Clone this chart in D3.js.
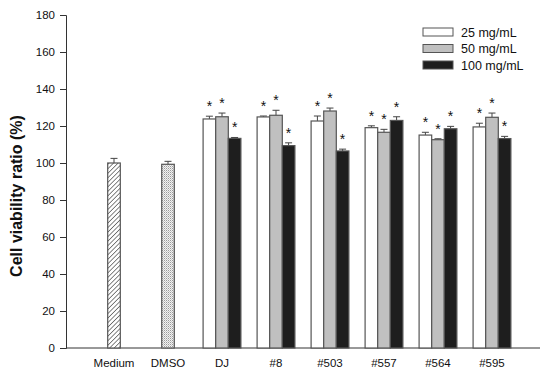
<!DOCTYPE html>
<html><head><meta charset="utf-8">
<script src="https://cdn.jsdelivr.net/npm/d3@7"></script>
<style>body{margin:0;background:#fff}svg{display:block}text{font-family:Arial,"Liberation Sans",sans-serif}</style>
</head><body><svg id="c" width="550" height="375"></svg>
<script>
const categories = ["Medium","DMSO","DJ","#8","#503","#557","#564","#595"];
const seriesNames = ["25 mg/mL","50 mg/mL","100 mg/mL"];
const controlValues = [100, 99.3];
const controlErrors = [2.5, 1.6];
const values25 = [123.8, 124.9, 122.7, 119.1, 115.1, 119.5];
const errors25 = [1.5, 0.5, 2.7, 1.0, 1.5, 2.0];
const values50 = [125.0, 125.8, 128.1, 116.6, 112.6, 124.7];
const errors50 = [2.0, 2.7, 1.6, 1.6, 0.5, 2.3];
const values100 = [113.3, 109.4, 106.5, 123.0, 118.5, 113.2];
const errors100 = [0.5, 1.5, 1.0, 2.0, 1.3, 1.2];
const yTicks = [0,20,40,60,80,100,120,140,160,180];

const svg = d3.select("#c");
const x = d3.scalePoint().domain(categories).range([66,540]).padding(0.889);
const y = d3.scaleLinear().domain([0,180]).range([348,15]);
const barW = 12.6;
const fills = ["#ffffff","#c0c0c0","#1e1e1e"];
const stroke = "#555";

const defs = svg.append("defs");
const hatch = defs.append("pattern").attr("id","hatch").attr("patternUnits","userSpaceOnUse")
  .attr("width",3.2).attr("height",3.2).attr("patternTransform","rotate(45)");
hatch.append("rect").attr("width",3.2).attr("height",3.2).attr("fill","#fff");
hatch.append("line").attr("x1",0).attr("y1",0).attr("x2",0).attr("y2",3.2).attr("stroke","#222").attr("stroke-width",1.1);
const dots = defs.append("pattern").attr("id","dots").attr("patternUnits","userSpaceOnUse")
  .attr("width",2).attr("height",2);
dots.append("rect").attr("width",2).attr("height",2).attr("fill","#f2f2f2");
dots.append("rect").attr("width",1).attr("height",1).attr("fill","#9a9a9a");
dots.append("rect").attr("x",1).attr("y",1).attr("width",1).attr("height",1).attr("fill","#c8c8c8");

// axes
const yAxis = svg.append("g").attr("transform","translate(66,0)")
  .call(d3.axisLeft(y).tickValues(yTicks).tickSize(6).tickPadding(5));
yAxis.selectAll("text").attr("font-size",11.5).attr("fill","#111").style("font-family","Arial, 'Liberation Sans', sans-serif");
yAxis.select(".domain").attr("stroke","#333");
yAxis.selectAll(".tick line").attr("stroke","#333");

svg.append("line").attr("x1",66).attr("x2",540).attr("y1",y(0)).attr("y2",y(0)).attr("stroke","#333");

svg.append("g").selectAll("text").data(categories).join("text")
  .attr("x",d=>x(d)).attr("y",367).attr("text-anchor","middle").attr("font-size",11.5).attr("fill","#111")
  .text(d=>d);

svg.append("text").attr("transform","translate(22,196) rotate(-90)").attr("text-anchor","middle")
  .attr("font-size",16).attr("font-weight","bold").attr("fill","#111").text("Cell viability ratio (%)");

function drawBar(cx, v, e, fill, star){
  svg.append("line").attr("x1",cx).attr("x2",cx).attr("y1",y(v)).attr("y2",y(v+e)).attr("stroke","#444").attr("stroke-width",1);
  svg.append("line").attr("x1",cx-3.5).attr("x2",cx+3.5).attr("y1",y(v+e)).attr("y2",y(v+e)).attr("stroke","#444").attr("stroke-width",1);
  svg.append("rect").attr("x",cx-barW/2).attr("y",y(v)).attr("width",barW).attr("height",y(0)-y(v))
    .attr("fill",fill).attr("stroke",stroke).attr("stroke-width",1.2);
  if(star){
    svg.append("text").attr("x",cx).attr("y",y(v+e)-5).attr("text-anchor","middle").attr("font-size",14).attr("fill","#111").text("*");
  }
}
drawBar(x(categories[0]), controlValues[0], controlErrors[0], "url(#hatch)", false);
drawBar(x(categories[1]), controlValues[1], controlErrors[1], "url(#dots)", false);
const series = [[values25,errors25],[values50,errors50],[values100,errors100]];
categories.slice(2).forEach((c,i)=>{
  series.forEach((s,j)=>{
    drawBar(x(c)+(j-1)*barW, s[0][i], s[1][i], fills[j], true);
  });
});

// legend
const lg = svg.append("g");
seriesNames.forEach((n,i)=>{
  lg.append("rect").attr("x",423).attr("y",28+i*16.5).attr("width",30).attr("height",8)
    .attr("fill",fills[i]).attr("stroke",stroke).attr("stroke-width",1);
  lg.append("text").attr("x",461).attr("y",36.5+i*16.5).attr("font-size",12.5).attr("fill","#111").text(n);
});
</script></body></html>
